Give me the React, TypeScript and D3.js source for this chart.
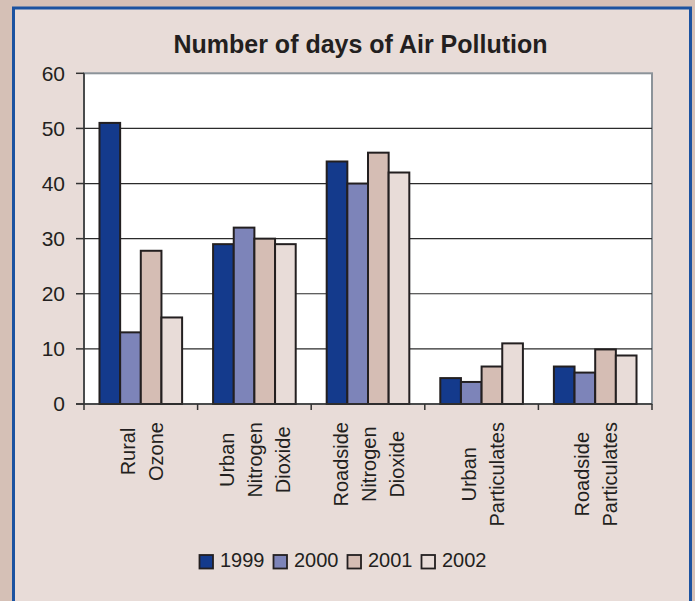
import { useEffect, useRef } from "react";
import * as d3 from "d3";

// chart data
const categories = [
  ["Rural", "Ozone"],
  ["Urban", "Nitrogen", "Dioxide"],
  ["Roadside", "Nitrogen", "Dioxide"],
  ["Urban", "Particulates"],
  ["Roadside", "Particulates"],
];
const years = ["1999", "2000", "2001", "2002"];
const values1999 = [51, 29, 44, 4.7, 6.8];
const values2000 = [13, 32, 40, 4, 5.7];
const values2001 = [27.8, 30, 45.6, 6.8, 9.9];
const values2002 = [15.7, 29, 42, 11, 8.8];
const yTicks = [0, 10, 20, 30, 40, 50, 60];
const colours = ["#143a8c", "#7d84b9", "#d5bdb4", "#e8dcd8"];

const W = 695;
const H = 601;
const plot = { left: 84, right: 652, top: 73.3, bottom: 404 };
const font = "'Liberation Sans', Arial, Helvetica, sans-serif";
const ink = "#231f20";

const App = () => {
  const ref = useRef<SVGSVGElement>(null);

  useEffect(() => {
    const svg = d3.select(ref.current);
    svg.selectAll("*").remove();

    const series = [values1999, values2000, values2001, values2002];
    const keys = categories.map((c) => c.join(" "));

    const x0 = d3.scaleBand().domain(keys).range([plot.left, plot.right]);
    const x1 = d3.scaleBand().domain(years).range([0, x0.bandwidth()]).paddingOuter(0.75);
    const y = d3.scaleLinear().domain([0, 60]).range([plot.bottom, plot.top]);
    const colour = d3.scaleOrdinal<string, string>().domain(years).range(colours);

    // backgrounds
    svg.append("rect").attr("width", W).attr("height", H).attr("fill", "#d5c0b6");
    svg.append("rect")
      .attr("x", 13.5).attr("y", 8)
      .attr("width", 690.5 - 13.5).attr("height", H + 20)
      .attr("fill", "#e8dcd8")
      .attr("stroke", "#1b52a0").attr("stroke-width", 3);

    // plot area
    svg.append("rect")
      .attr("x", plot.left).attr("y", plot.top)
      .attr("width", plot.right - plot.left).attr("height", plot.bottom - plot.top)
      .attr("fill", "#fff")
      .attr("stroke", "#8c9399").attr("stroke-width", 2);

    // gridlines
    svg.append("g")
      .selectAll("line")
      .data(yTicks.filter((t) => t > 0 && t < 60))
      .join("line")
      .attr("x1", plot.left).attr("x2", plot.right)
      .attr("y1", (d) => y(d)).attr("y2", (d) => y(d))
      .attr("stroke", "#2b2b2b").attr("stroke-width", 1.2);

    // bars
    const groups = svg.append("g")
      .selectAll("g")
      .data(keys)
      .join("g")
      .attr("transform", (d) => `translate(${x0(d)},0)`);

    groups.selectAll("rect")
      .data((d, i) => years.map((yr, j) => ({ yr, v: series[j][i] })))
      .join("rect")
      .attr("x", (d) => x1(d.yr)!)
      .attr("y", (d) => y(d.v))
      .attr("width", x1.bandwidth())
      .attr("height", (d) => y(0) - y(d.v))
      .attr("fill", (d) => colour(d.yr))
      .attr("stroke", ink).attr("stroke-width", 2);

    // y axis
    const yAxis = svg.append("g");
    yAxis.append("line")
      .attr("x1", plot.left).attr("x2", plot.left)
      .attr("y1", plot.top).attr("y2", plot.bottom)
      .attr("stroke", "#333").attr("stroke-width", 1.5);
    yAxis.selectAll("line.tick")
      .data(yTicks)
      .join("line")
      .attr("class", "tick")
      .attr("x1", plot.left - 8).attr("x2", plot.left)
      .attr("y1", (d) => y(d)).attr("y2", (d) => y(d))
      .attr("stroke", "#333").attr("stroke-width", 1.5);
    yAxis.selectAll("text")
      .data(yTicks)
      .join("text")
      .attr("x", 65)
      .attr("y", (d) => y(d))
      .attr("dy", "0.35em")
      .attr("text-anchor", "end")
      .attr("font-family", font)
      .attr("font-size", 21)
      .attr("fill", ink)
      .text((d) => d);

    // x axis
    const xAxis = svg.append("g");
    xAxis.append("line")
      .attr("x1", plot.left - 8).attr("x2", plot.right)
      .attr("y1", plot.bottom).attr("y2", plot.bottom)
      .attr("stroke", "#333").attr("stroke-width", 1.5);
    const edges = keys.map((k) => x0(k)!).concat([plot.right]);
    xAxis.selectAll("line.tick")
      .data(edges)
      .join("line")
      .attr("class", "tick")
      .attr("x1", (d) => d).attr("x2", (d) => d)
      .attr("y1", plot.bottom).attr("y2", plot.bottom + 6)
      .attr("stroke", "#333").attr("stroke-width", 1.5);

    // rotated category labels, lines centred on each other, block hung below the axis
    const lineGap = 28;
    categories.forEach((lines, i) => {
      const cx = x0(keys[i])! + x0.bandwidth() / 2;
      const g = svg.append("g");
      const texts = g.selectAll("text")
        .data(lines)
        .join("text")
        .attr("text-anchor", "middle")
        .attr("dominant-baseline", "central")
        .attr("font-family", font)
        .attr("font-size", 20)
        .attr("fill", ink)
        .text((d) => d);
      let maxLen = 0;
      texts.each(function () {
        maxLen = Math.max(maxLen, (this as SVGTextElement).getComputedTextLength());
      });
      const cy = 422 + maxLen / 2;
      texts.attr("transform", (d, j) =>
        `translate(${cx + (j - (lines.length - 1) / 2) * lineGap + 1},${cy}) rotate(-90)`);
    });

    // title
    svg.append("text")
      .attr("x", 360.5).attr("y", 53)
      .attr("text-anchor", "middle")
      .attr("font-family", font)
      .attr("font-size", 25)
      .attr("font-weight", "bold")
      .attr("fill", ink)
      .text("Number of days of Air Pollution");

    // legend
    const legend = svg.append("g").attr("transform", "translate(199.5,555)");
    const item = legend.selectAll("g")
      .data(years)
      .join("g")
      .attr("transform", (d, i) => `translate(${i * 74},0)`);
    item.append("rect")
      .attr("width", 13.5).attr("height", 13.5)
      .attr("fill", (d) => colour(d))
      .attr("stroke", ink).attr("stroke-width", 1.8);
    item.append("text")
      .attr("x", 20.5).attr("y", 11.5)
      .attr("font-family", font)
      .attr("font-size", 20)
      .attr("fill", ink)
      .text((d) => d);
  }, []);

  return (
    <svg
      ref={ref}
      width={W}
      height={H}
      viewBox={`0 0 ${W} ${H}`}
      style={{ position: "absolute", left: 0, top: 0, display: "block" }}
    />
  );
};

export default App;
